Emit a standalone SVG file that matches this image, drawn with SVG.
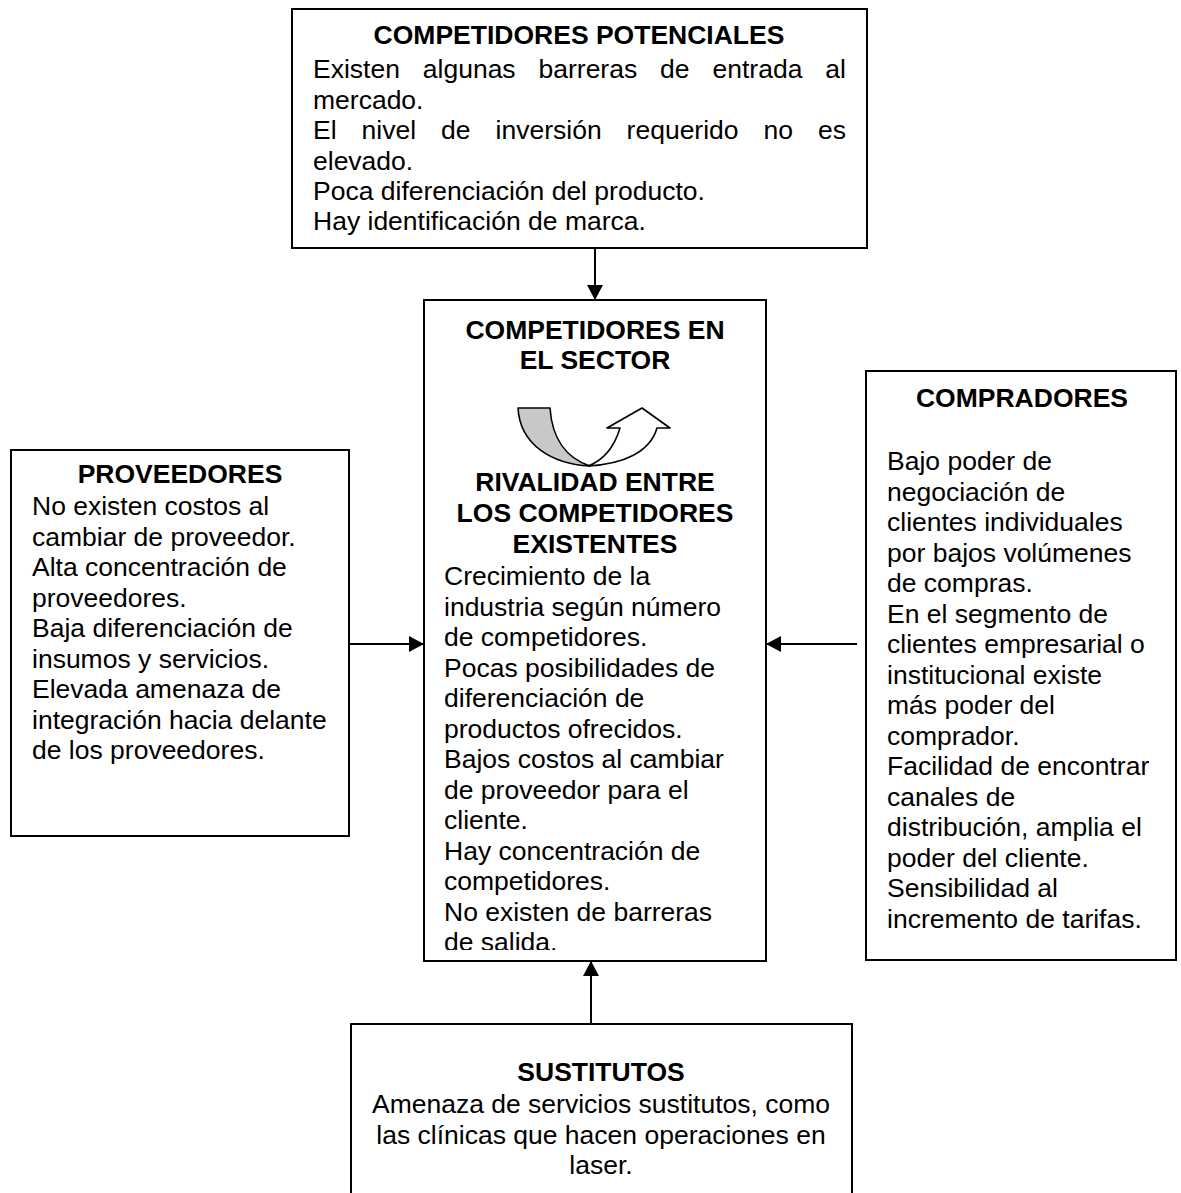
<svg xmlns="http://www.w3.org/2000/svg" width="1181" height="1193" viewBox="0 0 1181 1193">
<style>
.box{fill:#fff;stroke:#000;stroke-width:2}
.t{font-family:"Liberation Sans",Arial,sans-serif;font-size:26.5px;fill:#000}
.b{font-weight:bold}
.c{text-anchor:middle}
.con{stroke:#000;stroke-width:2;fill:none}
.ico{stroke:#000;stroke-width:1.6;stroke-linejoin:round}
</style>
<defs>
<marker id="arr" markerUnits="userSpaceOnUse" markerWidth="16" markerHeight="16" refX="15" refY="8" orient="auto">
<path d="M0,0 L15,8 L0,16 Z" fill="#000"/>
</marker>
<clipPath id="clipC"><rect x="424" y="300" width="342" height="650"/></clipPath>
</defs>
<rect width="1181" height="1193" fill="#fff"/>

<g id="potenciales">
<rect class="box" x="292" y="9" width="575" height="239"/>
<text class="t b c" x="579" y="44">COMPETIDORES POTENCIALES</text>
<text class="t" y="78"><tspan x="313">Existen</tspan><tspan x="422.8">algunas</tspan><tspan x="538.5">barreras</tspan><tspan x="660.1">de</tspan><tspan x="712.5">entrada</tspan><tspan x="825.3">al</tspan></text>
<text class="t" x="313" y="108.5">mercado.</text>
<text class="t" y="139"><tspan x="313">El</tspan><tspan x="361.6">nivel</tspan><tspan x="441.1">de</tspan><tspan x="495.6">inversión</tspan><tspan x="626.6">requerido</tspan><tspan x="763.5">no</tspan><tspan x="818">es</tspan></text>
<text class="t" x="313" y="169.5">elevado.</text>
<text class="t" x="313" y="200">Poca diferenciación del producto.</text>
<text class="t" x="313" y="230">Hay identificación de marca.</text>
</g>

<g id="sector">
<rect class="box" x="424" y="300" width="342" height="661"/>
<text class="t b c" x="595" y="339">COMPETIDORES EN</text>
<text class="t b c" x="595" y="369">EL SECTOR</text>
<g id="rivalidad-icon">
<path class="ico" fill="#c8c8c8" d="M518,408 L550,408 C552,438 566,458 590,466 C552,464 520,445 518,408 Z"/>
<path class="ico" fill="#fff" d="M588,466 C624,464 650,452 657,428 L670,428 L642,408 L607,428 L620,428 C614,448 604,460 588,466 Z"/>
</g>
<text class="t b c" x="595" y="491">RIVALIDAD ENTRE</text>
<text class="t b c" x="595" y="522">LOS COMPETIDORES</text>
<text class="t b c" x="595" y="553">EXISTENTES</text>
<g clip-path="url(#clipC)">
<text class="t" x="444" y="585">Crecimiento de la</text>
<text class="t" x="444" y="615.5">industria según número</text>
<text class="t" x="444" y="646">de competidores.</text>
<text class="t" x="444" y="676.5">Pocas posibilidades de</text>
<text class="t" x="444" y="707">diferenciación de</text>
<text class="t" x="444" y="737.5">productos ofrecidos.</text>
<text class="t" x="444" y="768">Bajos costos al cambiar</text>
<text class="t" x="444" y="798.5">de proveedor para el</text>
<text class="t" x="444" y="829">cliente.</text>
<text class="t" x="444" y="859.5">Hay concentración de</text>
<text class="t" x="444" y="890">competidores.</text>
<text class="t" x="444" y="920.5">No existen de barreras</text>
<text class="t" x="444" y="951">de salida.</text>
</g>
</g>

<g id="proveedores">
<rect class="box" x="11" y="450" width="338" height="386"/>
<text class="t b c" x="180" y="483">PROVEEDORES</text>
<text class="t" x="32" y="515">No existen costos al</text>
<text class="t" x="32" y="545.5">cambiar de proveedor.</text>
<text class="t" x="32" y="576">Alta concentración de</text>
<text class="t" x="32" y="606.5">proveedores.</text>
<text class="t" x="32" y="637">Baja diferenciación de</text>
<text class="t" x="32" y="667.5">insumos y servicios.</text>
<text class="t" x="32" y="698">Elevada amenaza de</text>
<text class="t" x="32" y="728.5">integración hacia delante</text>
<text class="t" x="32" y="759">de los proveedores.</text>
</g>

<g id="compradores">
<rect class="box" x="866" y="371" width="310" height="589"/>
<text class="t b c" x="1022" y="407">COMPRADORES</text>
<text class="t" x="887" y="470">Bajo poder de</text>
<text class="t" x="887" y="500.5">negociación de</text>
<text class="t" x="887" y="531">clientes individuales</text>
<text class="t" x="887" y="561.5">por bajos volúmenes</text>
<text class="t" x="887" y="592">de compras.</text>
<text class="t" x="887" y="622.5">En el segmento de</text>
<text class="t" x="887" y="653">clientes empresarial o</text>
<text class="t" x="887" y="683.5">institucional existe</text>
<text class="t" x="887" y="714">más poder del</text>
<text class="t" x="887" y="744.5">comprador.</text>
<text class="t" x="887" y="775">Facilidad de encontrar</text>
<text class="t" x="887" y="805.5">canales de</text>
<text class="t" x="887" y="836">distribución, amplia el</text>
<text class="t" x="887" y="866.5">poder del cliente.</text>
<text class="t" x="887" y="897">Sensibilidad al</text>
<text class="t" x="887" y="927.5">incremento de tarifas.</text>
</g>

<g id="sustitutos">
<rect class="box" x="351" y="1024" width="501" height="200"/>
<text class="t b c" x="601" y="1081">SUSTITUTOS</text>
<text class="t c" x="601" y="1113">Amenaza de servicios sustitutos, como</text>
<text class="t c" x="601" y="1143.5">las clínicas que hacen operaciones en</text>
<text class="t c" x="601" y="1174">laser.</text>
</g>

<g id="connectors">
<line class="con" x1="595" y1="248" x2="595" y2="300" marker-end="url(#arr)"/>
<line class="con" x1="349" y1="644" x2="424" y2="644" marker-end="url(#arr)"/>
<line class="con" x1="857" y1="644" x2="766" y2="644" marker-end="url(#arr)"/>
<line class="con" x1="591" y1="1024" x2="591" y2="961" marker-end="url(#arr)"/>
</g>
</svg>
